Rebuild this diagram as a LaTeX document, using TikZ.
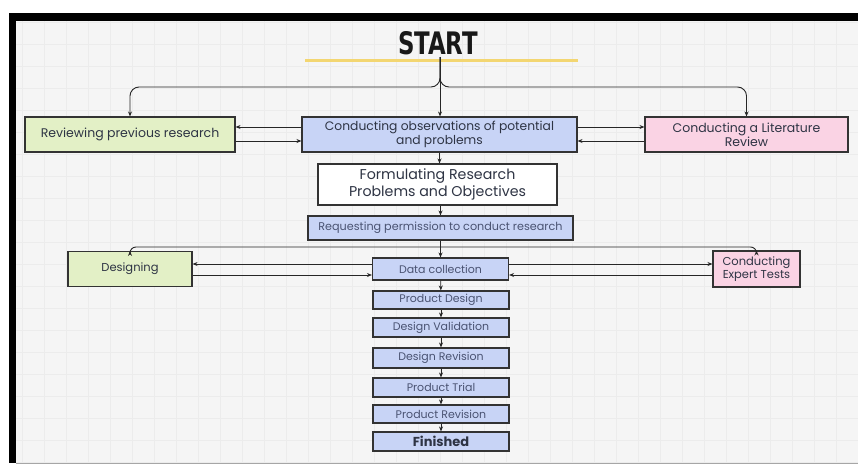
\documentclass[tikz,border=0pt]{standalone}
\usepackage{fontspec}
\setmainfont{Poppins}
\newfontfamily\startfont{DejaVu Sans Condensed}
\usetikzlibrary{arrows.meta}
\definecolor{bgc}{HTML}{F5F5F5}
\definecolor{gridc}{HTML}{ECECEC}
\definecolor{bluef}{HTML}{C8D4F6}
\definecolor{greenf}{HTML}{E3F0C6}
\definecolor{pinkf}{HTML}{FAD3E4}
\definecolor{yel}{HTML}{F3D671}
\definecolor{txt}{HTML}{2E3444}
\definecolor{txtb}{HTML}{4A5372}
\tikzset{
  box/.style={draw=black!80, line width=1.1pt, align=center, inner sep=0pt, text=txt},
  bluebox/.style={box, fill=bluef},
  greenbox/.style={box, fill=greenf},
  pinkbox/.style={box, fill=pinkf},
  whitebox/.style={box, fill=white},
  chain/.style={bluebox, text=txtb, minimum width=136pt, minimum height=18pt, font=\fontsize{11}{12}\selectfont},
  arr/.style={-{Stealth[length=5pt,width=4pt]}, line width=0.9pt, draw=black!85},
}
\begin{document}
\begin{tikzpicture}[x=1pt,y=-1pt]
\useasboundingbox (0,0) rectangle (858,466);
% frame and background
\fill[bgc] (16,21) rectangle (858,463);
\draw[gridc, line width=0.4pt, step=22pt] (16,21) grid (858,463);
\fill[black] (9,13) rectangle (858,21);
\fill[black] (9,13) rectangle (16,463);
\draw[black!35, line width=1pt] (16,463) -- (858,463);

% title
\node[font=\startfont\bfseries\fontsize{31}{32}\selectfont, text=black!90, inner sep=0pt, xscale=0.82] (start) at (438,43) {START};
\draw[yel, line width=3pt] (305,60) -- (578,60);

% top row
\node[greenbox, minimum width=210pt, minimum height=35pt, font=\fontsize{12.5}{13}\selectfont] (rev) at (130,134.5) {Reviewing previous research};
\node[bluebox, minimum width=275pt, minimum height=35pt, font=\fontsize{12.3}{13.5}\selectfont] (obs) at (439.5,134.5) {Conducting observations of potential\\and problems};
\node[pinkbox, minimum width=203pt, minimum height=35pt, font=\fontsize{12.5}{14}\selectfont] (lit) at (746.5,134.5) {Conducting a Literature\\Review};

\node[whitebox, minimum width=239pt, minimum height=41pt, font=\fontsize{14.2}{16.5}\selectfont] (form) at (437.5,184.5) {Formulating Research\\Problems and Objectives};
\node[bluebox, text=txtb, minimum width=265pt, minimum height=24pt, font=\fontsize{11.2}{12}\selectfont] (req) at (440.5,228) {Requesting permission to conduct research};

% middle row
\node[greenbox, minimum width=124pt, minimum height=35pt, font=\fontsize{11.5}{12}\selectfont] (des) at (130,269) {Designing};
\node[chain, minimum height=22pt] (data) at (440.5,269) {Data collection};
\node[pinkbox, minimum width=87pt, minimum height=36pt, font=\fontsize{11.5}{13}\selectfont] (exp) at (756.5,269) {Conducting\\Expert Tests};

% chain
\node[chain] (pd) at (441,300) {Product Design};
\node[chain, minimum height=19pt] (dv) at (441,327.5) {Design Validation};
\node[chain, minimum height=20pt] (dr) at (441,358) {Design Revision};
\node[chain, minimum height=19pt] (pt) at (441,387.5) {Product Trial};
\node[chain] (pr) at (441,414) {Product Revision};
\node[chain, minimum height=19pt, text=txt, font=\bfseries\fontsize{13}{14}\selectfont] (fin) at (441,441.5) {Finished};

% connectors from START
\coordinate (b1) at (440,87);
\coordinate (s0) at (440,57);
\draw[arr] (s0) -- (obs.north -| s0);
\draw[arr, rounded corners=9pt] (s0) -- (b1) -| (rev.north);
\draw[arr, rounded corners=9pt] (s0) -- (b1) -| (lit.north);

% side exchanges top
\draw[arr] ([yshift=7.5pt]obs.west) -- ([yshift=7.5pt]rev.east);
\draw[arr] ([yshift=-6.5pt]rev.east) -- ([yshift=-6.5pt]obs.west);
\draw[arr] ([yshift=7.5pt]obs.east) -- ([yshift=7.5pt]lit.west);
\draw[arr] ([yshift=-6.5pt]lit.west) -- ([yshift=-6.5pt]obs.east);

% vertical flow
\draw[arr] (obs.south) -- (form.north -| obs.south);
\draw[arr] (form.south -| req.north) -- (req.north);
\coordinate (b2) at (440.5,247);
\draw[arr] (req.south) -- (data.north);
\draw[arr, rounded corners=6pt] (b2) -| (des.north);
\draw[arr, rounded corners=6pt] (b2) -| (exp.north);

% side exchanges middle
\draw[arr] ([yshift=5pt]data.west) -- ([yshift=5pt]des.east);
\draw[arr] ([yshift=-6pt]des.east) -- ([yshift=-6pt]data.west);
\draw[arr] ([yshift=5pt]data.east) -- ([yshift=5pt]exp.west);
\draw[arr] ([yshift=-6pt]exp.west) -- ([yshift=-6pt]data.east);

% chain arrows
\draw[arr] (data) -- (pd);
\draw[arr] (pd) -- (dv);
\draw[arr] (dv) -- (dr);
\draw[arr] (dr) -- (pt);
\draw[arr] (pt) -- (pr);
\draw[arr] (pr) -- (fin);
\end{tikzpicture}
\end{document}
